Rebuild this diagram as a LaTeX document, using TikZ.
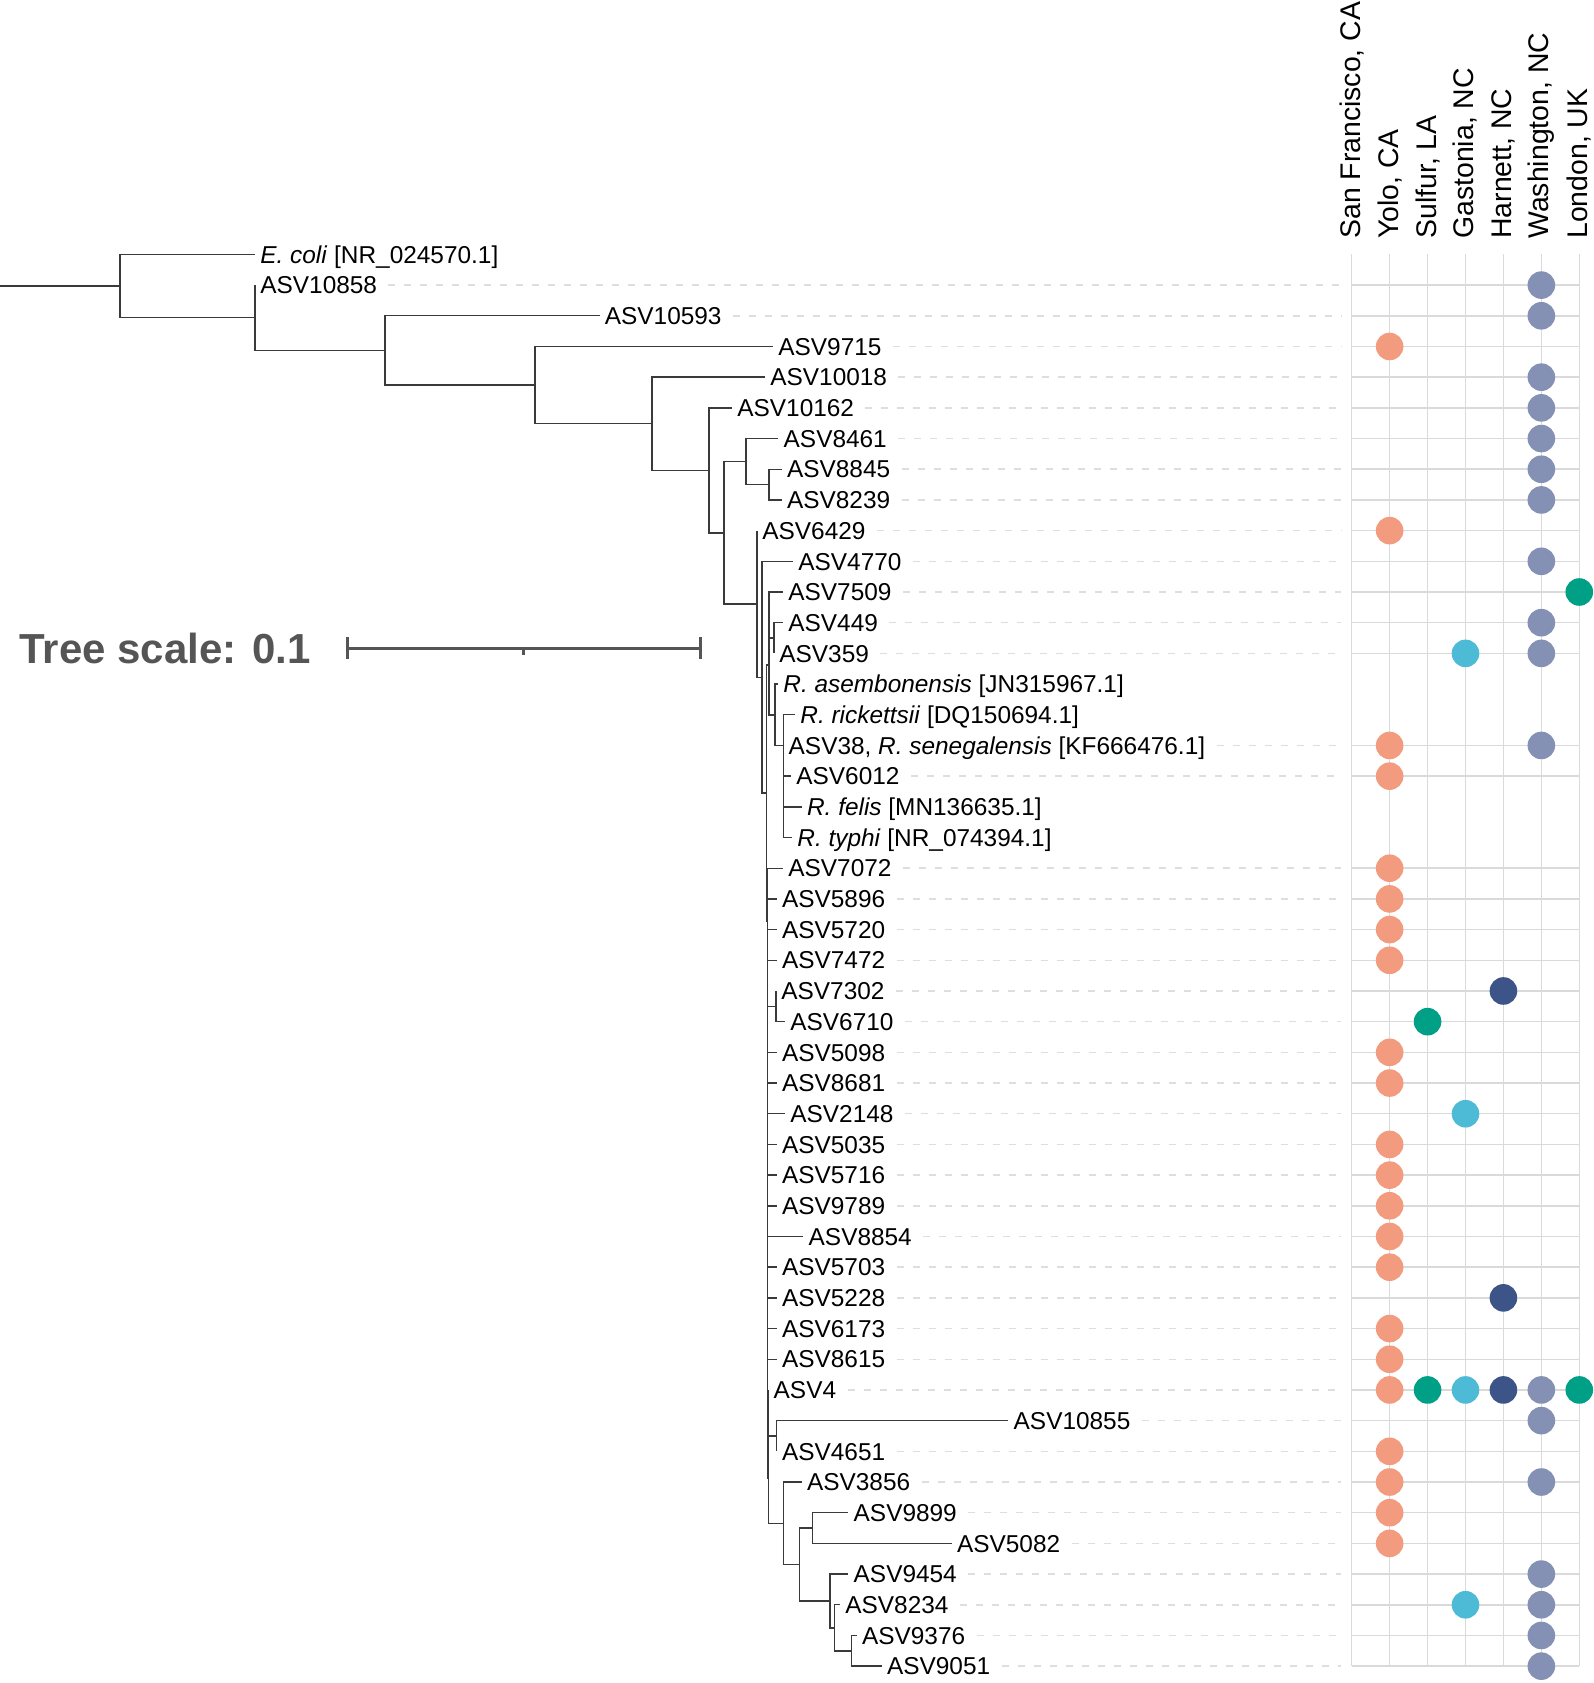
\documentclass[tikz,border=0pt]{standalone}
\usepackage{fontspec}
\setmainfont{Liberation Sans}
\usepackage{xcolor}
\usepackage{tikz}

\definecolor{branchC}{HTML}{3A3A3A}
\definecolor{gridC}{HTML}{DADADA}
\definecolor{guideC}{HTML}{DEDEDE}
\definecolor{scaleC}{HTML}{555555}
\definecolor{loc1}{HTML}{E64B35}
\definecolor{loc2}{HTML}{F39B7F}
\definecolor{loc3}{HTML}{00A087}
\definecolor{loc4}{HTML}{4DBBD5}
\definecolor{loc5}{HTML}{3C5488}
\definecolor{loc6}{HTML}{8491B4}
\definecolor{loc7}{HTML}{00A087}

\begin{document}
\begin{tikzpicture}[
  x=0.5pt, y=-0.5pt,
  br/.style={draw=branchC, line width=0.7pt},
  lbl/.style={anchor=west, inner xsep=2.5pt, inner ysep=0pt, text height=8.7pt, text depth=0pt, font=\fontsize{12.2}{14}\selectfont},
  hdr/.style={rotate=90, anchor=west, inner sep=0pt, font=\fontsize{14.2}{17}\selectfont},
  guide/.style={draw=guideC, line width=0.75pt, dash pattern=on 3.5pt off 4.5pt, shorten <=3pt},
  gridl/.style={draw=gridC, line width=0.75pt},
  dot/.style={circle, draw=none, inner sep=0pt, minimum size=13.8pt},
  sbar/.style={draw=scaleC, line width=1.5pt}
]
\useasboundingbox (0,0) rectangle (1594,1683);

% Internal nodes of the tree
\coordinate (root) at (0,286.0);
\coordinate (A) at (120,286.0);
\coordinate (B) at (255,317.7);
\coordinate (C) at (385,350.4);
\coordinate (D) at (535,385.1);
\coordinate (E) at (652,423.7);
\coordinate (F) at (709,470.3);
\coordinate (G) at (724,532.8);
\coordinate (H) at (746,461.6);
\coordinate (I) at (769,484.6);
\coordinate (J) at (757,603.9);
\coordinate (K) at (762,677.2);
\coordinate (L) at (766.7,793);
\coordinate (M) at (769,665);
\coordinate (N1) at (774,638);
\coordinate (O) at (775,714.8);
\coordinate (P) at (783.3,745.4);
\coordinate (N) at (767.3,921);
\coordinate (V) at (776,1006.3);
\coordinate (U) at (768.3,1478);
\coordinate (Q) at (776.7,1436);
\coordinate (S) at (783.3,1523.2);
\coordinate (W) at (799.3,1564.5);
\coordinate (X) at (812.7,1528);
\coordinate (Y) at (830,1600.9);
\coordinate (Z) at (834.3,1627.8);
\coordinate (Z2) at (851.7,1650.8);

\draw[br] (root) -- (A);
\foreach \p/\c in {A/B, B/C, C/D, D/E, E/F, F/G, G/H, H/I, G/J, J/K, K/L, L/M, M/N1, M/O, O/P,
                   L/N, N/V, N/U, U/Q, U/S, S/W, W/X, W/Y, Y/Z, Z/Z2}
  \draw[br] (\p) |- (\c);

% Leaves: row / tip x / parent / guide / label
\foreach \r/\x/\p/\g/\t in {
  0/255/A/0/{\textit{E. coli} [NR\_024570.1]},
  1/255/B/1/ASV10858,
  2/599.5/C/1/ASV10593,
  3/773/D/1/ASV9715,
  4/765/E/1/ASV10018,
  5/732/F/1/ASV10162,
  6/778.3/H/1/ASV8461,
  7/781.7/I/1/ASV8845,
  8/781.7/I/1/ASV8239,
  9/757/J/1/ASV6429,
  10/793/K/1/ASV4770,
  11/783/M/1/ASV7509,
  12/783/N1/1/ASV449,
  13/774/N1/1/ASV359,
  14/778/O/0/{\textit{R. asembonensis} [JN315967.1]},
  15/795/P/0/{\textit{R. rickettsii} [DQ150694.1]},
  16/783.3/P/1/{ASV38, \textit{R. senegalensis} [KF666476.1]},
  17/791/P/1/ASV6012,
  18/801.7/P/0/{\textit{R. felis} [MN136635.1]},
  19/792/P/0/{\textit{R. typhi} [NR\_074394.1]},
  20/783/N/1/ASV7072,
  21/776.7/N/1/ASV5896,
  22/776.7/N/1/ASV5720,
  23/776.7/N/1/ASV7472,
  24/776/V/1/ASV7302,
  25/785/V/1/ASV6710,
  26/776.7/N/1/ASV5098,
  27/776.7/N/1/ASV8681,
  28/785/N/1/ASV2148,
  29/776.7/N/1/ASV5035,
  30/776.7/N/1/ASV5716,
  31/776.7/N/1/ASV9789,
  32/803.3/N/1/ASV8854,
  33/776.7/N/1/ASV5703,
  34/776.7/N/1/ASV5228,
  35/776.7/N/1/ASV6173,
  36/776.7/N/1/ASV8615,
  37/768.3/U/1/ASV4,
  38/1008.3/Q/1/ASV10855,
  39/776.7/Q/1/ASV4651,
  40/801.7/S/1/ASV3856,
  41/848.3/X/1/ASV9899,
  42/951.7/X/1/ASV5082,
  43/848.3/Y/1/ASV9454,
  44/840/Z/1/ASV8234,
  45/856.7/Z2/1/ASV9376,
  46/881.7/Z2/1/ASV9051}{
  \pgfmathsetmacro\yy{254.4+30.69*\r}
  \coordinate (t\r) at (\x,\yy);
  \draw[br] (\p) |- (t\r);
  \node[lbl] (l\r) at (t\r) {\t};
  \ifnum\g=1
    \coordinate (e\r) at (1341,\yy);
    \draw[guide] (l\r) -- (e\r);
    \draw[gridl] (1351.7,\yy) -- (1579.3,\yy);
  \fi
}

% Grid columns and headers
\foreach \c/\t in {1/{San Francisco, CA}, 2/{Yolo, CA}, 3/{Sulfur, LA}, 4/{Gastonia, NC},
                   5/{Harnett, NC}, 6/{Washington, NC}, 7/{London, UK}}{
  \pgfmathsetmacro\xx{1351.7+37.93*(\c-1)}
  \draw[gridl] (\xx,254.4) -- (\xx,1666.1);
  \node[hdr] (h\c) at (\xx,239) {\t};
}

% Presence dots: row / columns
\foreach \r/\cs in {1/6, 2/6, 3/2, 4/6, 5/6, 6/6, 7/6, 8/6, 9/2, 10/6, 11/7, 12/6, 13/{4,6},
                    16/{2,6}, 17/2, 20/2, 21/2, 22/2, 23/2, 24/5, 25/3, 26/2, 27/2, 28/4,
                    29/2, 30/2, 31/2, 32/2, 33/2, 34/5, 35/2, 36/2, 37/{2,3,4,5,6,7},
                    38/6, 39/2, 40/{2,6}, 41/2, 42/2, 43/6, 44/{4,6}, 45/6, 46/6}{
  \foreach \c in \cs
    \node[dot, fill=loc\c] (d\r-\c) at ({1351.7+37.93*(\c-1)},{254.4+30.69*\r}) {};
}

% Tree scale
\node[anchor=base west, inner sep=0pt, text=scaleC, font=\fontsize{21}{25}\selectfont\bfseries] (tscale) at (19,663) {Tree scale: 0.1};
\draw[sbar] (347,637) -- (347,659) (347,648) -- (700,648) (700,637) -- (700,659) (523.5,648) -- (523.5,655);
\end{tikzpicture}
\end{document}
